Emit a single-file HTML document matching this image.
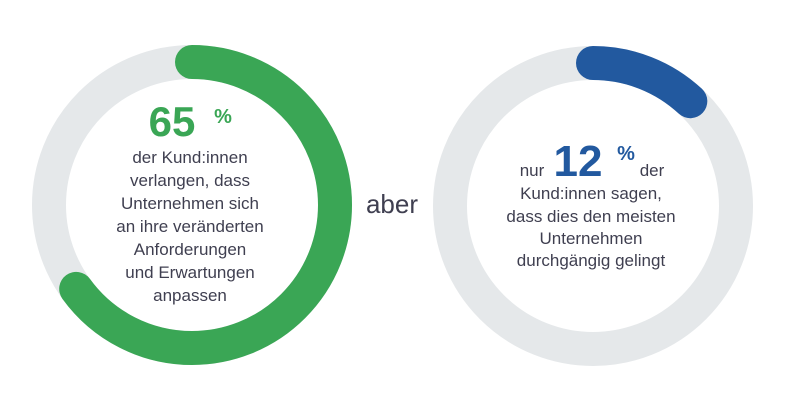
<!DOCTYPE html>
<html><head><meta charset="utf-8"><style>
html,body{margin:0;padding:0;background:#fff;}
svg{display:block;}
text{font-family:"Liberation Sans",sans-serif;}
</style></head><body>
<svg width="788" height="418" viewBox="0 0 788 418" xmlns="http://www.w3.org/2000/svg">
<circle cx="192" cy="205" r="143" fill="none" stroke="#e5e8ea" stroke-width="34"/>
<circle cx="192" cy="205" r="143" fill="none" stroke="#3aa655" stroke-width="34" stroke-linecap="round"
 stroke-dasharray="584 2000" transform="rotate(-90 192 205)"/>
<circle cx="593" cy="206" r="143" fill="none" stroke="#e5e8ea" stroke-width="34"/>
<circle cx="593" cy="206" r="143" fill="none" stroke="#22599f" stroke-width="34" stroke-linecap="round"
 stroke-dasharray="107 2000" transform="rotate(-90 593 206)"/>

<g fill="#3f3f50" font-size="17" text-anchor="middle">
<text x="172" y="136" font-size="42" font-weight="bold" fill="#3aa655">65</text>
<text x="223" y="123" font-size="20" font-weight="bold" fill="#3aa655">%</text>
<text x="190" y="163">der Kund:innen</text>
<text x="190" y="186">verlangen, dass</text>
<text x="190" y="209">Unternehmen sich</text>
<text x="190" y="232">an ihre veränderten</text>
<text x="190" y="255">Anforderungen</text>
<text x="190" y="278">und Erwartungen</text>
<text x="190" y="301">anpassen</text>

<text x="392" y="213" font-size="26">aber</text>

<text x="532" y="176">nur</text>
<text x="578" y="176" font-size="44" font-weight="bold" fill="#22599f">12</text>
<text x="626" y="160" font-size="20" font-weight="bold" fill="#22599f">%</text>
<text x="652" y="176">der</text>
<text x="591" y="199">Kund:innen sagen,</text>
<text x="591" y="222">dass dies den meisten</text>
<text x="591" y="244">Unternehmen</text>
<text x="591" y="266">durchgängig gelingt</text>
</g>
</svg>
</body></html>
